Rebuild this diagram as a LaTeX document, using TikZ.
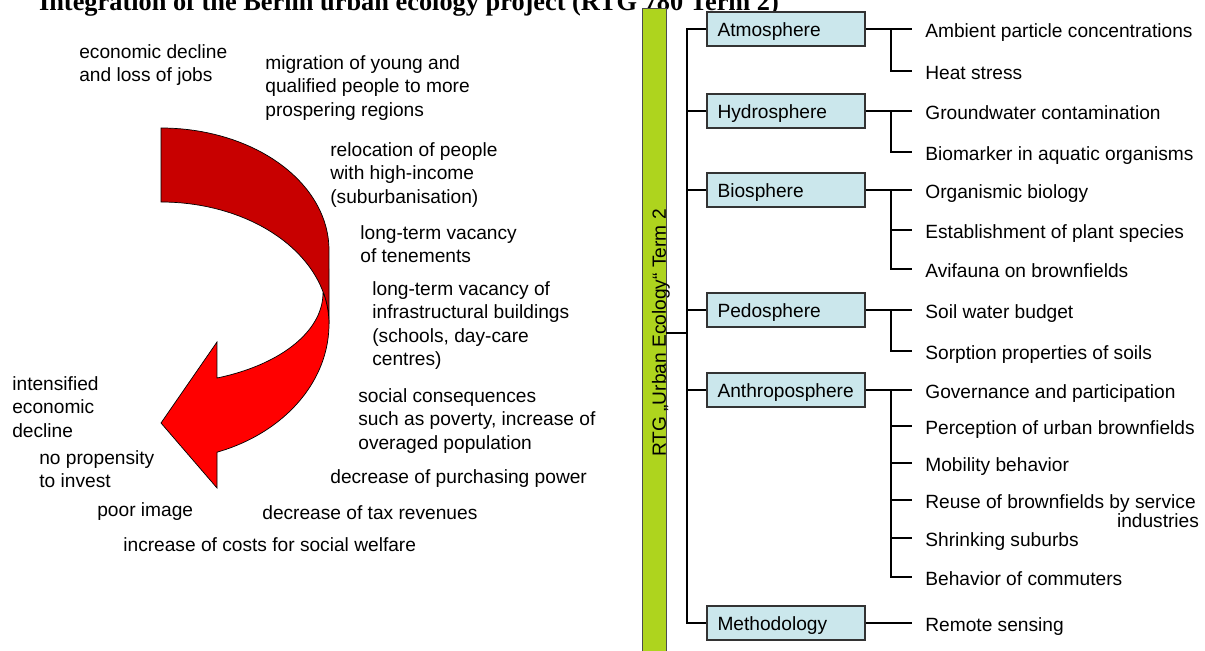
\documentclass[tikz,border=0pt]{standalone}
\usepackage{fontspec}
\setmainfont{Liberation Sans}
\newfontfamily\titlefamily{Liberation Serif}
\usepackage{tikz}
\usetikzlibrary{positioning}
\definecolor{rtggreen}{RGB}{174,212,30}
\definecolor{spherefill}{RGB}{203,231,236}
\definecolor{backred}{RGB}{200,0,0}
\definecolor{frontred}{RGB}{255,0,0}
\newcommand{\txtsize}{\fontsize{10.9}{13.4}\selectfont}
\newcommand{\ttlsize}{\fontsize{15}{18}\selectfont}

\begin{document}
\begin{tikzpicture}[x=0.02cm,y=-0.02cm,
        cause/.style={font=\txtsize, align=left, inner sep=0pt, anchor=north west},
        sphere/.style={draw=black!80, line width=0.8pt, fill=spherefill, font=\txtsize,
                minimum height=0.68cm, text width=2.74cm, inner xsep=0.21cm, align=left,
                text height=9.5pt, text depth=0.5pt},
        item/.style={font=\txtsize, inner sep=0pt, text height=8pt, text depth=2.3pt, yshift=-2pt},
        link/.style={line width=0.7pt}]
                \clip (0,0) rectangle (1205,651);
                %\draw[help lines] (0,0) grid (1205,651);
                \node[font=\titlefamily\bfseries\ttlsize, anchor=base] (title) at (409,11)
                        {Integration of the Berlin urban ecology project (RTG 780 Term 2)};

                % curved arrow, back and front part
                \filldraw[fill=backred, line width=0.4pt]
                        plot[domain=-90:0, samples=40] ({161+168*cos(\x)},{250+122*sin(\x)})
                        -- plot[domain=0:-90, samples=40] ({161+168*cos(\x)},{324+122*sin(\x)}) -- cycle;
                \filldraw[fill=frontred, line width=0.4pt]
                        plot[domain=-14.7:0, samples=10] ({161+168*cos(\x)},{324+122*sin(\x)})
                        -- plot[domain=0:70.5, samples=40] ({161+168*cos(\x)},{324+136*sin(\x)})
                        -- (217,488) -- (161,423) -- (217,342)
                        -- plot[domain=69.8:0, samples=40] ({161+162*cos(\x)},{293+90.6*sin(\x)}) -- cycle;

                \node[cause] (econ) at (79,44) {economic decline\\and loss of jobs};
                \node[cause] (migr) at (265,55) {migration of young and\\qualified people to more\\prospering regions};
                \node[cause] (reloc) at (330,142) {relocation of people\\with high-income\\(suburbanisation)};
                \node[cause] (tenem) at (360,225) {long-term vacancy\\of tenements};
                \node[cause] (infra) at (372,281) {long-term vacancy of\\infrastructural buildings\\(schools, day-care\\centres)};
                \node[cause] (inten) at (12,376) {intensified\\economic\\decline};
                \node[cause] (social) at (358,388) {social consequences\\such as poverty, increase of\\overaged population};
                \node[cause] (invest) at (39,450) {no propensity\\to invest};
                \node[cause] (purch) at (330,469) {decrease of purchasing power};
                \node[cause] (image) at (97,502) {poor image};
                \node[cause] (tax) at (262,505) {decrease of tax revenues};
                \node[cause] (welfare) at (123,537) {increase of costs for social welfare};

                % RTG bar and spheres
                \node[draw=black!70, fill=rtggreen, minimum width=0.48cm, minimum height=13.3cm,
                        inner sep=0pt, anchor=north] (rtg) at (654,8) {};
                \node[font=\txtsize, rotate=90] (rtgtext) at (661,333) {RTG „Urban Ecology“ Term 2};

                \node[sphere] (atm) at (786,29) {Atmosphere};
                \node[sphere] (hyd) at (786,111) {Hydrosphere};
                \node[sphere] (bio) at (786,190) {Biosphere};
                \node[sphere] (ped) at (786,310) {Pedosphere};
                \node[sphere] (anth) at (786,390) {Anthroposphere};
                \node[sphere] (meth) at (786,623) {Methodology};

                \coordinate (trunk) at (687,333);
                \draw[link] (rtg.east |- trunk) -- (trunk);
                \draw[link] (atm.west) -- (atm.west -| trunk) -- (meth.west -| trunk) -- (meth.west);
                \foreach \s in {hyd,bio,ped,anth}
                        \draw[link] (\s.west) -- (\s.west -| trunk);

                % topics
                \foreach \n/\y/\t in {amb/29/Ambient particle concentrations, heat/71/Heat stress,
                        gw/111/Groundwater contamination, bm/152/Biomarker in aquatic organisms,
                        org/190/Organismic biology, est/230/Establishment of plant species,
                        avi/269/Avifauna on brownfields, soil/310/Soil water budget,
                        sorp/351/Sorption properties of soils, gov/390/Governance and participation,
                        perc/426/Perception of urban brownfields, mob/463/Mobility behavior,
                        reuse/500/Reuse of brownfields by service, shrink/538/Shrinking suburbs,
                        comm/577/Behavior of commuters, rs/623/Remote sensing}{
                        \coordinate (t-\n) at (912,\y);
                        \node[item, right=7.4pt of t-\n] (\n) {\t};
                }
                \node[item] (indus) at (1158,519) {industries};

                \coordinate (sub) at (891,0);
                \draw[link] (atm.east) -- (t-amb);
                \draw[link] (t-amb -| sub) |- (t-heat);
                \draw[link] (hyd.east) -- (t-gw);
                \draw[link] (t-gw -| sub) |- (t-bm);
                \draw[link] (bio.east) -- (t-org);
                \draw[link] (t-org -| sub) |- (t-avi);
                \draw[link] (t-est -| sub) -- (t-est);
                \draw[link] (ped.east) -- (t-soil);
                \draw[link] (t-soil -| sub) |- (t-sorp);
                \draw[link] (anth.east) -- (t-gov);
                \draw[link] (t-gov -| sub) |- (t-comm);
                \foreach \n in {perc,mob,reuse,shrink}
                        \draw[link] (t-\n -| sub) -- (t-\n);
                \draw[link] (meth.east) -- (t-rs);
        \end{tikzpicture}
\end{document}
